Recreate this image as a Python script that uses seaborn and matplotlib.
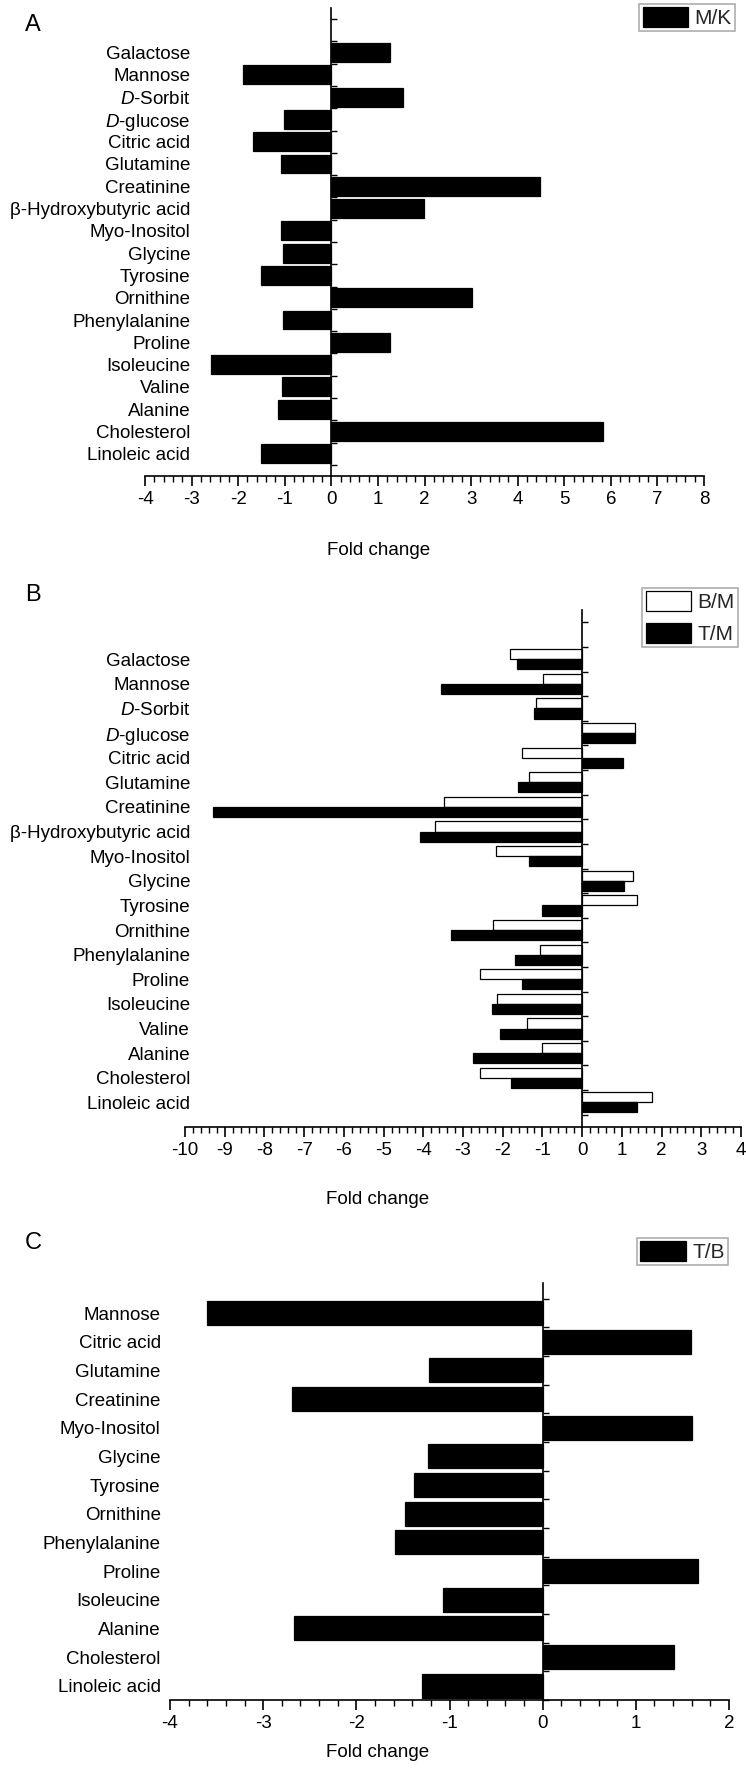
import matplotlib
matplotlib.use('Agg')
import matplotlib.pyplot as plt
from matplotlib.patches import Patch
from matplotlib.ticker import MultipleLocator, FixedLocator
import numpy as np
import pandas as pd
import seaborn as sns

# panel A: M/K
a_names = ['Galactose', 'Mannose', 'D-Sorbit', 'D-glucose', 'Citric acid', 'Glutamine',
           'Creatinine', 'β-Hydroxybutyric acid', 'Myo-Inositol', 'Glycine', 'Tyrosine',
           'Ornithine', 'Phenylalanine', 'Proline', 'Isoleucine', 'Valine', 'Alanine',
           'Cholesterol', 'Linoleic acid']
a_mk = [1.27, -1.89, 1.54, -1.02, -1.69, -1.07, 4.48, 1.98, -1.07, -1.04, -1.50,
        3.02, -1.03, 1.27, -2.59, -1.05, -1.15, 5.83, -1.50]

# panel B: B/M and T/M (same metabolites as A)
b_names = a_names
b_bm = [-1.82, -0.98, -1.16, 1.33, -1.52, -1.34, -3.47, -3.71, -2.18, 1.29, 1.39,
        -2.24, -1.07, -2.58, -2.15, -1.40, -1.02, -2.57, 1.77]
b_tm = [-1.64, -3.56, -1.20, 1.33, 1.02, -1.61, -9.29, -4.08, -1.34, 1.06, -1.01,
        -3.30, -1.68, -1.52, -2.28, -2.06, -2.75, -1.79, 1.38]

# panel C: T/B
c_names = ['Mannose', 'Citric acid', 'Glutamine', 'Creatinine', 'Myo-Inositol', 'Glycine',
           'Tyrosine', 'Ornithine', 'Phenylalanine', 'Proline', 'Isoleucine', 'Alanine',
           'Cholesterol', 'Linoleic acid']
c_tb = [-3.60, 1.59, -1.22, -2.69, 1.60, -1.23, -1.38, -1.48, -1.58, 1.67, -1.07,
        -2.67, 1.41, -1.30]

W, H = 746, 1769
FS = 13.5

sns.set_theme(style='white')
plt.rcParams['font.family'] = ['Liberation Sans', 'DejaVu Sans']
plt.rcParams['mathtext.fontset'] = 'custom'
plt.rcParams['mathtext.it'] = 'Liberation Sans:italic'
plt.rcParams['mathtext.rm'] = 'Liberation Sans'
plt.rcParams['axes.unicode_minus'] = False


def pretty(name):
    if name.startswith('D-'):
        return r'$\mathit{D}$-' + name[2:]
    return name


def px_axes(fig, l, t, r, b):
    return fig.add_axes([l / W, 1 - b / H, (r - l) / W, (b - t) / H])


def draw_panel(ax, df, names, palette, xlim, ylim, first_tick, width, pad_px,
               xlabel_x, xlabel_y, legend_anchor):
    sns.barplot(data=df, x='fold', y='metabolite', hue='ratio', order=names,
                hue_order=list(palette), palette=palette, orient='h', width=width,
                edgecolor='black', linewidth=0.9, saturation=1, legend=False, ax=ax)
    ax.spines[['top', 'right']].set_visible(False)
    ax.spines['left'].set_position(('data', 0))
    for s in ['left', 'bottom']:
        ax.spines[s].set_color('black')
        ax.spines[s].set_linewidth(1.2)

    ax.set_xlim(*xlim)
    ax.set_ylim(*ylim)
    ax.xaxis.set_major_locator(MultipleLocator(1))
    ax.xaxis.set_minor_locator(MultipleLocator(0.2))
    ax.tick_params(axis='x', which='major', bottom=True, direction='out', length=7,
                   width=1.2, pad=4, labelsize=FS, colors='black')
    ax.tick_params(axis='x', which='minor', bottom=True, direction='out', length=4,
                   width=1.0, colors='black')

    # labels sit far left of the zero axis, boundaries get small ticks
    ax.set_yticks(range(len(names)), labels=[pretty(n) for n in names])
    ax.yaxis.set_minor_locator(FixedLocator(np.arange(first_tick, len(names), 1.0)))
    ax.tick_params(axis='y', which='major', left=True, length=0,
                   pad=pad_px * 72 / 100, labelsize=FS, colors='black')
    ax.tick_params(axis='y', which='minor', left=True, direction='in', length=4,
                   width=1.0, colors='black')

    ax.set_ylabel('')
    ax.set_xlabel('Fold change', fontsize=FS, color='black')
    ax.xaxis.set_label_coords(xlabel_x, xlabel_y)

    handles = [Patch(facecolor=c, edgecolor='black', linewidth=0.9, label=k)
               for k, c in palette.items()]
    leg = ax.legend(handles=handles, loc='upper right', bbox_to_anchor=legend_anchor,
                    bbox_transform=ax.figure.transFigure, fontsize=15, frameon=True,
                    fancybox=False, edgecolor='0.6', handlelength=2.2, handleheight=1.1,
                    handletextpad=0.3, borderpad=0.15, borderaxespad=0, labelspacing=0.5)
    leg.get_frame().set_linewidth(1.2)


fig = plt.figure(figsize=(W / 100, H / 100), dpi=100)

# A
df_a = pd.DataFrame({'metabolite': a_names, 'fold': a_mk, 'ratio': 'M/K'})
ax_a = px_axes(fig, 145, 8, 704, 476)
draw_panel(ax_a, df_a, a_names, {'M/K': 'black'}, (-4, 8), (19.0, -2.0), -1.5, 0.84,
           331 - 190, 0.417, -0.14, (735 / W, 1 - 4 / H))

# B
df_b = pd.DataFrame({'metabolite': b_names * 2, 'fold': b_bm + b_tm,
                     'ratio': ['B/M'] * len(b_names) + ['T/M'] * len(b_names)})
ax_b = px_axes(fig, 185, 610, 741, 1127)
draw_panel(ax_b, df_b, b_names, {'B/M': 'white', 'T/M': 'black'}, (-10, 4), (19.0, -2.0),
           -1.5, 0.82, 582 - 190, 0.347, -0.124, (738 / W, 1 - 588 / H))

# C
df_c = pd.DataFrame({'metabolite': c_names, 'fold': c_tb, 'ratio': 'T/B'})
ax_c = px_axes(fig, 170, 1283, 729, 1700)
draw_panel(ax_c, df_c, c_names, {'T/B': 'black'}, (-4, 2), (13.5, -1.05), -0.5, 0.84,
           544 - 162, 0.372, -0.106, (728 / W, 1 - 1238 / H))

for letter, y in [('A', 25), ('B', 595), ('C', 1243)]:
    fig.text(25 / W, 1 - y / H, letter, fontsize=17, ha='left', va='center', color='black')

fig.savefig('out.png', dpi=100)
